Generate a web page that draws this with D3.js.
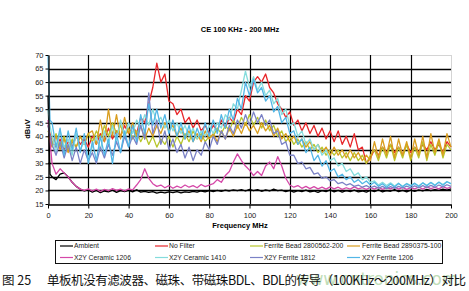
<!DOCTYPE html>
<html>
<head>
<meta charset="utf-8">
<script src="https://cdn.jsdelivr.net/npm/d3@7"></script>
<style>
  body { margin: 0; background: #fff; }
  svg { display: block; font-family: 'Liberation Sans', Arial, sans-serif; }
</style>
</head>
<body>
<svg id="chart" width="469" height="291"></svg>
<script>
// frequency grid (MHz)
const freq = [0, 1,
  2, 4, 6, 8, 10, 12, 14, 16, 18, 20,
  22, 24, 26, 28, 30, 32, 34, 36, 38, 40,
  42, 44, 46, 48, 50, 52, 54, 56, 58, 60,
  62, 64, 66, 68, 70, 72, 74, 76, 78, 80,
  82, 84, 86, 88, 90, 92, 94, 96, 98, 100,
  102, 104, 106, 108, 110, 112, 114, 116, 118, 120,
  122, 124, 126, 128, 130, 132, 134, 136, 138, 140,
  142, 144, 146, 148, 150, 152, 154, 156, 158, 160,
  162, 164, 166, 168, 170, 172, 174, 176, 178, 180,
  182, 184, 186, 188, 190, 192, 194, 196, 198, 200]

const ambient = [55, 26,
  25, 24, 26, 26.5, 25, 23, 21.5, 20.5, 19.8, 20.2,
  19.4, 20, 19.2, 19.8, 19.5, 20.1, 19.3, 19.9, 19.6, 20,
  19.5, 20.2, 19.4, 19.7, 19.3, 19.6, 19, 19.4, 19.1, 19.5,
  19.2, 19.6, 19.1, 19.5, 19.3, 19.7, 19.4, 19.8, 19.5, 19.9,
  19.6, 20, 19.7, 20.1, 19.8, 20.2, 19.9, 20.3, 19.8, 20.4,
  19.9, 20.3, 19.7, 20.2, 19.8, 20.5, 19.9, 20.1, 19.6, 20,
  19.4, 19.9, 19.6, 20.1, 19.5, 19.8, 19.3, 19.9, 19.6, 20.2,
  19.5, 20, 19.4, 19.9, 19.6, 20.1, 19.5, 19.8, 19.4, 20,
  19.6, 20.2, 19.5, 19.9, 19.7, 20.3, 19.6, 20, 19.5, 20.1,
  19.7, 20.2, 19.8, 20.4, 19.9, 20.3, 20, 20.5, 20.1, 20.6]

const noFilter = [44, 41,
  38, 36, 39, 35, 38, 36, 40, 37, 39, 36,
  40, 37, 41, 38, 43, 39, 42, 40, 44, 41,
  44, 41, 47, 45, 52, 58, 67, 60, 63, 53,
  52, 48, 50, 45, 47, 43, 46, 42, 44, 41,
  44, 42, 46, 43, 47, 45, 50, 48, 55, 53,
  60, 62, 60, 63, 58, 56, 52, 50, 47, 49,
  44, 46, 42, 45, 41, 44, 40, 43, 39, 42,
  38, 42, 37, 40, 36, 41, 35, 36, 30, 32,
  35, 33, 36, 34, 37, 34, 36, 33, 37, 34,
  36, 34, 37, 35, 38, 35, 37, 34, 38, 36]

const bead562 = [42, 40,
  37, 41, 36, 40, 35, 39, 36, 40, 37, 41,
  38, 42, 39, 44, 40, 45, 41, 44, 40, 43,
  39, 42, 38, 41, 37, 40, 36, 39, 37, 40,
  36, 40, 37, 41, 38, 42, 39, 41, 38, 40,
  40, 43, 41, 44, 42, 46, 43, 47, 44, 48,
  44, 47, 43, 46, 42, 44, 40, 42, 38, 40,
  37, 39, 36, 38, 35, 37, 34, 36, 33, 35,
  33, 35, 32, 34, 31, 34, 31, 33, 30, 33,
  35, 31, 36, 32, 37, 31, 36, 32, 37, 31,
  36, 32, 38, 31, 37, 33, 38, 32, 37, 35]

const bead375 = [40, 38,
  36, 40, 35, 39, 34, 38, 36, 40, 37, 41,
  42, 37, 46, 38, 50, 40, 48, 39, 47, 41,
  45, 40, 44, 39, 43, 40, 44, 41, 45, 42,
  44, 40, 43, 39, 42, 38, 41, 38, 42, 39,
  41, 38, 42, 39, 43, 40, 44, 41, 45, 42,
  44, 41, 45, 42, 44, 40, 43, 39, 41, 38,
  40, 37, 39, 36, 38, 35, 37, 34, 36, 33,
  36, 33, 35, 32, 35, 32, 34, 31, 33, 31,
  38, 32, 39, 33, 40, 32, 39, 33, 38, 32,
  39, 33, 40, 32, 41, 34, 39, 33, 41, 36]

const ceramic1206 = [46, 38,
  30, 26, 28, 26.5, 25, 23, 21.5, 20.5, 20, 20.6,
  19.8, 20.5, 19.6, 20.4, 19.9, 20.7, 20, 20.5, 19.8, 20.6,
  20.2, 22, 24, 28, 24.5, 22.5, 21.5, 22, 21, 21.8,
  20.8, 21.6, 21, 22, 21.2, 21.8, 21, 22.2, 21.4, 22,
  22.5, 24, 23, 25.5, 27, 30.5, 33.5, 31, 29, 27.5,
  25.5, 27, 25.5, 29, 30.5, 28, 32.5, 29, 24.5, 22,
  21.2, 21.8, 20.8, 21.5, 20.7, 21.4, 20.6, 21.2, 20.5, 21.3,
  20.6, 21.2, 20.4, 21, 20.5, 21.3, 20.6, 21, 20.4, 21.1,
  20.5, 21.2, 20.4, 21, 20.6, 21.3, 20.5, 21.1, 20.4, 21,
  20.6, 21.2, 20.5, 21.3, 20.7, 21.1, 20.6, 21.4, 20.8, 21.2]

const ceramic1410 = [50, 44,
  40, 34, 42, 36, 39, 33, 41, 35, 38, 32,
  36, 40, 35, 42, 37, 44, 38, 46, 40, 45,
  41, 46, 43, 48, 44, 50, 45, 47, 43, 46,
  42, 45, 41, 44, 40, 43, 39, 42, 40, 44,
  41, 45, 43, 48, 46, 52, 50, 57, 64, 58,
  62, 57, 60, 55, 57, 52, 54, 48, 50, 44,
  45, 40, 42, 37, 39, 35, 37, 33, 35, 31,
  32, 29, 30, 27, 28, 25.5, 26.5, 24, 25, 23,
  23.5, 22, 23, 21.8, 22.8, 21.6, 22.7, 21.5, 22.6, 21.8,
  22.5, 21.7, 22.8, 21.9, 23, 22, 23.1, 22.2, 23.3, 22.4]

const ferrite1812 = [44, 40,
  37, 33, 38, 32, 37, 31, 36, 30, 35, 31,
  34, 30, 36, 32, 37, 33, 38, 34, 40, 36,
  40, 37, 44, 39, 56, 41, 46, 37, 42, 35,
  39, 34, 37, 32, 36, 31, 35, 33, 38, 35,
  40, 37, 42, 39, 44, 41, 46, 43, 48, 44,
  49, 45, 48, 44, 46, 41, 42, 37, 38, 33,
  33, 30, 30.5, 28, 28.5, 26, 26.5, 24.5, 25, 23.5,
  24, 22.5, 23, 22, 22.5, 21.5, 22, 21.2, 21.8, 21,
  21.6, 20.8, 21.5, 20.7, 21.4, 20.8, 21.5, 20.9, 21.6, 21,
  21.7, 21, 21.8, 21.1, 21.9, 21.2, 22, 21.3, 22.1, 21.5]

const ferrite1206 = [70, 46,
  45, 36, 43, 33, 42, 35, 43, 34, 41, 30,
  38, 31, 40, 33, 39, 30, 41, 34, 42, 36,
  44, 38, 48, 41, 52, 44, 50, 43, 48, 41,
  46, 40, 45, 39, 44, 38, 43, 39, 45, 40,
  46, 41, 48, 43, 50, 46, 54, 50, 60, 55,
  61, 56, 58, 53, 55, 49, 51, 45, 47, 41,
  42, 37, 39, 34, 36, 31, 33, 29, 31, 27,
  28, 25, 26, 24, 25, 23, 24, 22.5, 23.5, 22,
  23, 21.5, 22.5, 21.2, 22.4, 21.3, 22.6, 21.4, 22.5, 21.6,
  22.7, 21.5, 22.8, 21.7, 22.9, 21.8, 23, 21.9, 23.2, 22.5]

const seriesNames = ['Ambient', 'No Filter', 'Ferrite Bead 2800562-200', 'Ferrite Bead 2890375-100',
  'X2Y Ceramic 1206', 'X2Y Ceramic 1410', 'X2Y Ferrite 1812', 'X2Y Ferrite 1206']
const seriesValues = [ambient, noFilter, bead562, bead375, ceramic1206, ceramic1410, ferrite1812, ferrite1206]
const seriesColors = ['#000000', '#e8262a', '#b8c62c', '#d99d1e', '#d548a8', '#84dcdc', '#7b82c6', '#52b6e6']

const xTicks = [0, 20, 40, 60, 80, 100, 120, 140, 160, 180, 200]
const yTicks = [15, 20, 25, 30, 35, 40, 45, 50, 55, 60, 65, 70]

const margin = { left: 48, right: 451, top: 55, bottom: 204 }
const svg = d3.select('#chart')

const x = d3.scaleLinear().domain([0, 200]).range([margin.left, margin.right])
const y = d3.scaleLinear().domain([15, 70]).range([margin.bottom, margin.top])

// frame (faint top / right)
svg.append('rect')
  .attr('x', margin.left + 0.5)
  .attr('y', margin.top + 0.5)
  .attr('width', margin.right - margin.left)
  .attr('height', margin.bottom - margin.top)
  .attr('fill', 'none')
  .attr('stroke', '#d4d4d4')

// horizontal grid, snapped to the pixel grid
svg.append('g')
  .selectAll('line')
  .data(yTicks.filter(d => d > 15 && d < 70))
  .join('line')
  .attr('x1', margin.left)
  .attr('x2', margin.right)
  .attr('y1', d => Math.round(y(d)) + 0.5)
  .attr('y2', d => Math.round(y(d)) + 0.5)
  .attr('stroke', '#000')
  .attr('stroke-width', 1.5)

// vertical grid
svg.append('g')
  .selectAll('line')
  .data(xTicks.filter(d => d > 0 && d < 200))
  .join('line')
  .attr('x1', d => Math.round(x(d)) + 0.5)
  .attr('x2', d => Math.round(x(d)) + 0.5)
  .attr('y1', margin.top)
  .attr('y2', margin.bottom)
  .attr('stroke', '#000')
  .attr('stroke-width', 1.2)

// series
const line = d3.line()
  .x((d, i) => x(freq[i]))
  .y(d => y(d))

svg.append('g')
  .selectAll('path')
  .data(seriesValues)
  .join('path')
  .attr('d', d => line(d))
  .attr('fill', 'none')
  .attr('stroke', (d, i) => seriesColors[i])
  .attr('stroke-width', 1.3)
  .attr('stroke-linejoin', 'round')

// axes
const xAxis = svg.append('g')
  .attr('transform', `translate(0,${margin.bottom + 0.5})`)
  .call(d3.axisBottom(x).tickValues(xTicks).tickSize(4).tickSizeOuter(0))
xAxis.select('.domain').attr('stroke', '#000').attr('stroke-width', 1.3)
xAxis.selectAll('.tick line').attr('stroke', '#000')
xAxis.selectAll('text').attr('font-size', 7.5).attr('fill', '#222').attr('dy', '0.9em')

const yAxis = svg.append('g')
  .attr('transform', `translate(${margin.left + 0.5},0)`)
  .call(d3.axisLeft(y).tickValues(yTicks).tickSize(3).tickSizeOuter(0))
yAxis.select('.domain').attr('stroke', '#000').attr('stroke-width', 1.3)
yAxis.selectAll('.tick line').attr('stroke', '#000')
yAxis.selectAll('text').attr('font-size', 7.5).attr('fill', '#222').attr('x', -5)

// titles
svg.append('text')
  .attr('x', 240)
  .attr('y', 32)
  .attr('text-anchor', 'middle')
  .attr('font-size', 7.5)
  .attr('font-weight', 'bold')
  .text('CE 100 KHz - 200 MHz')

svg.append('text')
  .attr('x', 240)
  .attr('y', 228)
  .attr('text-anchor', 'middle')
  .attr('font-size', 7.5)
  .attr('font-weight', 'bold')
  .text('Frequency MHz')

svg.append('text')
  .attr('transform', 'translate(30,129) rotate(-90)')
  .attr('text-anchor', 'middle')
  .attr('font-size', 7.5)
  .attr('font-weight', 'bold')
  .text('dBuV')

// legend
const legend = svg.append('g')
legend.append('rect')
  .attr('x', 55.5)
  .attr('y', 240.5)
  .attr('width', 387)
  .attr('height', 23)
  .attr('fill', '#fff')
  .attr('stroke', '#111')

const colX = [60, 155, 250, 347]
const item = legend.selectAll('g.item')
  .data(seriesNames)
  .join('g')
  .attr('class', 'item')
  .attr('transform', (d, i) => `translate(${colX[i % 4]},${i < 4 ? 246 : 257.5})`)

item.append('line')
  .attr('x1', 0)
  .attr('x2', 13)
  .attr('stroke', (d, i) => seriesColors[i])
  .attr('stroke-width', 1.2)

item.append('text')
  .attr('x', (d, i) => (i % 4 === 3 ? 15 : 14))
  .attr('dy', '0.35em')
  .attr('font-size', 6.8)
  .attr('fill', '#222')
  .text(d => d)

// watermark behind the caption
svg.append('text')
  .attr('x', 296)
  .attr('y', 285)
  .attr('font-size', 17)
  .attr('fill', '#bfddb8')
  .attr('font-family', 'DejaVu Sans, sans-serif')
  .attr('textLength', 162)
  .attr('lengthAdjust', 'spacingAndGlyphs')
  .text('www.cntronics.com')

// caption: figure number, then the title
svg.append('text')
  .attr('x', 2)
  .attr('y', 285)
  .attr('font-size', 12.5)
  .attr('font-family', "'Noto Sans CJK SC', sans-serif")
  .attr('fill', '#111')
  .text('图 25')

svg.append('text')
  .attr('x', 47)
  .attr('y', 285)
  .attr('font-size', 12.5)
  .attr('font-family', "'Noto Sans CJK SC', sans-serif")
  .attr('fill', '#111')
  .attr('textLength', 419)
  .attr('lengthAdjust', 'spacing')
  .text('单板机没有滤波器、磁珠、带磁珠BDL、BDL的传导（100KHz～200MHz）对比')
</script>
</body>
</html>
